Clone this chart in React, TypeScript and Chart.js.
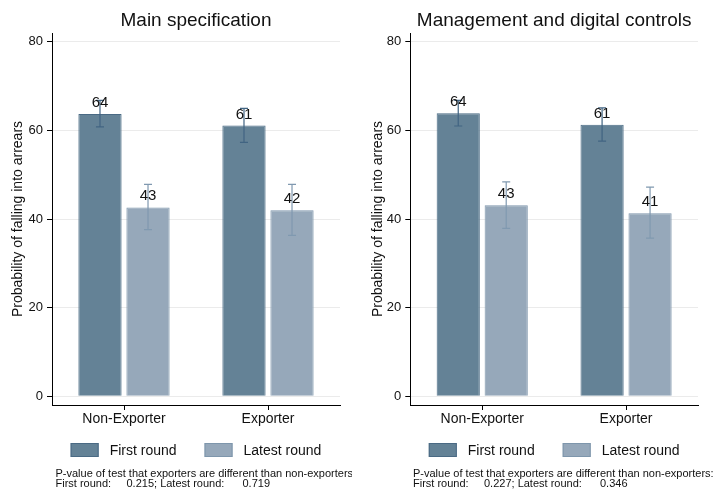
import React, { useEffect, useRef } from "react";
import { Chart, registerables } from "chart.js";

Chart.register(...registerables);

const FONT = "'Liberation Sans', Arial, sans-serif";
Chart.defaults.font.family = FONT;

// ---------- data ----------
const categories = ["Non-Exporter", "Exporter"];
const seriesNames = ["First round", "Latest round"];
const yTickValues = [0, 20, 40, 60, 80];
const yAxisTitle = "Probability of falling into arrears";
const noteLine1 = "P-value of test that exporters are different than non-exporters:";
const noteFirstLabel = "First round:";
const noteLatestLabel = "; Latest round:";

// Panel 1: Main specification
const mainTitle = "Main specification";
const mainFirst = [63.7, 61.1];
const mainFirstLo = [60.8, 57.3];
const mainFirstHi = [66.8, 65.0];
const mainLatest = [42.6, 42.0];
const mainLatestLo = [37.6, 36.3];
const mainLatestHi = [47.8, 47.8];
const mainPFirst = "0.215";
const mainPLatest = "0.719";

// Panel 2: Management and digital controls
const mgmtTitle = "Management and digital controls";
const mgmtFirst = [63.9, 61.3];
const mgmtFirstLo = [61.0, 57.6];
const mgmtFirstHi = [66.8, 65.1];
const mgmtLatest = [43.1, 41.3];
const mgmtLatestLo = [37.9, 35.7];
const mgmtLatestHi = [48.4, 47.2];
const mgmtPFirst = "0.227";
const mgmtPLatest = "0.346";

// ---------- styles ----------
const FILL = ["#648296", "#96a8ba"];
const EDGE = ["#4a6a84", "#7e96ac"];
const ERR = ["#416482", "#8099b0"];
const TEXT = "#111111";
const H = 493;

type Panel = {
  title: string;
  values: number[][];
  lo: number[][];
  hi: number[][];
  pFirst: string;
  pLatest: string;
  left: number;
  width: number;
  plotLeft: number;
  plotRight: number;
  noteX: number;
};

const panels: Panel[] = [
  {
    title: mainTitle,
    values: [mainFirst, mainLatest],
    lo: [mainFirstLo, mainLatestLo],
    hi: [mainFirstHi, mainLatestHi],
    pFirst: mainPFirst,
    pLatest: mainPLatest,
    left: 0,
    width: 352,
    plotLeft: 52,
    plotRight: 340,
    noteX: 55.5,
  },
  {
    title: mgmtTitle,
    values: [mgmtFirst, mgmtLatest],
    lo: [mgmtFirstLo, mgmtLatestLo],
    hi: [mgmtFirstHi, mgmtLatestHi],
    pFirst: mgmtPFirst,
    pLatest: mgmtPLatest,
    left: 360,
    width: 359,
    plotLeft: 50.3,
    plotRight: 338,
    noteX: 53,
  },
];

function makeDecor(p: Panel) {
  return {
    id: "decor",
    afterDatasetsDraw(chart: any) {
      const ctx = chart.ctx as CanvasRenderingContext2D;
      const ys = chart.scales.y;
      chart.data.datasets.forEach((ds: any, di: number) => {
        const meta = chart.getDatasetMeta(di);
        meta.data.forEach((bar: any, i: number) => {
          const x = bar.x;
          const yLo = ys.getPixelForValue(p.lo[di][i]);
          const yHi = ys.getPixelForValue(p.hi[di][i]);
          ctx.save();
          ctx.strokeStyle = ERR[di];
          ctx.lineWidth = 1.2;
          ctx.beginPath();
          ctx.moveTo(x, yLo);
          ctx.lineTo(x, yHi);
          ctx.moveTo(x - 4, yLo);
          ctx.lineTo(x + 4, yLo);
          ctx.moveTo(x - 4, yHi);
          ctx.lineTo(x + 4, yHi);
          ctx.stroke();
          ctx.restore();
        });
      });
      chart.data.datasets.forEach((ds: any, di: number) => {
        const meta = chart.getDatasetMeta(di);
        meta.data.forEach((bar: any, i: number) => {
          ctx.save();
          ctx.fillStyle = TEXT;
          ctx.font = `15px ${FONT}`;
          ctx.textAlign = "center";
          ctx.textBaseline = "alphabetic";
          ctx.fillText(String(Math.round(ds.data[i])), bar.x, bar.y - 7);
          ctx.restore();
        });
      });
    },
    afterDraw(chart: any) {
      const ctx = chart.ctx as CanvasRenderingContext2D;
      const ca = chart.chartArea;
      const cx = (ca.left + ca.right) / 2;
      ctx.save();
      // title
      ctx.fillStyle = TEXT;
      ctx.font = `19px ${FONT}`;
      ctx.textAlign = "center";
      ctx.textBaseline = "alphabetic";
      ctx.fillText(p.title, cx, 26);
      // legend
      ctx.font = `14px ${FONT}`;
      const boxW = 28, boxH = 14, gap = 11, itemGap = 28;
      const w = seriesNames.map((s) => ctx.measureText(s).width);
      const total = boxW + gap + w[0] + itemGap + boxW + gap + w[1];
      let x = cx - total / 2;
      ctx.textAlign = "left";
      seriesNames.forEach((s, i) => {
        ctx.fillStyle = FILL[i];
        ctx.fillRect(x, 443, boxW, boxH);
        ctx.strokeStyle = EDGE[i];
        ctx.lineWidth = 1;
        ctx.strokeRect(x + 0.5, 443.5, boxW - 1, boxH - 1);
        ctx.fillStyle = TEXT;
        ctx.fillText(s, x + boxW + gap, 455);
        x += boxW + gap + w[i] + itemGap;
      });
      // footnote
      ctx.font = `11px ${FONT}`;
      ctx.fillText(noteLine1, p.noteX, 477.3);
      ctx.fillText(noteFirstLabel, p.noteX, 487.3);
      ctx.fillText(p.pFirst + noteLatestLabel, p.noteX + 71, 487.3);
      ctx.fillText(p.pLatest, p.noteX + 187, 487.3);
      ctx.restore();
    },
  };
}

function PanelChart({ p }: { p: Panel }) {
  const ref = useRef<HTMLCanvasElement | null>(null);
  useEffect(() => {
    if (!ref.current) return;
    const chart = new Chart(ref.current, {
      type: "bar",
      data: {
        labels: categories,
        datasets: seriesNames.map((name, i) => ({
          label: name,
          data: p.values[i],
          backgroundColor: FILL[i],
          borderColor: EDGE[i],
          borderWidth: 1,
          categoryPercentage: 0.667,
          barPercentage: 0.9,
        })),
      },
      options: {
        responsive: false,
        animation: false,
        devicePixelRatio: 1,
        layout: { padding: { left: 0, right: p.width - p.plotRight, top: 33, bottom: 0 } },
        plugins: {
          legend: { display: false },
          title: { display: false },
          tooltip: { enabled: false },
        },
        scales: {
          x: {
            grid: {
              display: true,
              drawOnChartArea: false,
              offset: false,
              tickLength: 5,
              tickColor: "#000",
              color: "#000",
            },
            border: { display: true, color: "#000", width: 1 },
            ticks: { font: { size: 14 }, color: TEXT, padding: 1 },
            afterFit: (s: any) => {
              s.height = H - 405;
            },
          },
          y: {
            min: -2,
            max: 82,
            afterBuildTicks: (s: any) => {
              s.ticks = yTickValues.map((v) => ({ value: v }));
            },
            grid: { color: "#ebebeb", tickColor: "#000", tickLength: 5, lineWidth: 1 },
            border: { display: true, color: "#000", width: 1 },
            ticks: { font: { size: 13 }, color: TEXT, padding: 4 },
            title: {
              display: true,
              text: yAxisTitle,
              font: { size: 14 },
              color: TEXT,
              padding: { top: 10, bottom: 0 },
            },
            afterFit: (s: any) => {
              s.width = p.plotLeft;
            },
          },
        },
      } as any,
      plugins: [makeDecor(p)],
    });
    return () => chart.destroy();
  }, [p]);
  return (
    <canvas
      ref={ref}
      width={p.width}
      height={H}
      style={{ position: "absolute", left: p.left, top: 0, width: p.width, height: H }}
    />
  );
}

export default function App() {
  return (
    <div
      style={{
        position: "fixed",
        left: 0,
        top: 0,
        width: 719,
        height: H,
        background: "#ffffff",
        overflow: "hidden",
      }}
    >
      {panels.map((p, i) => (
        <PanelChart key={i} p={p} />
      ))}
    </div>
  );
}
